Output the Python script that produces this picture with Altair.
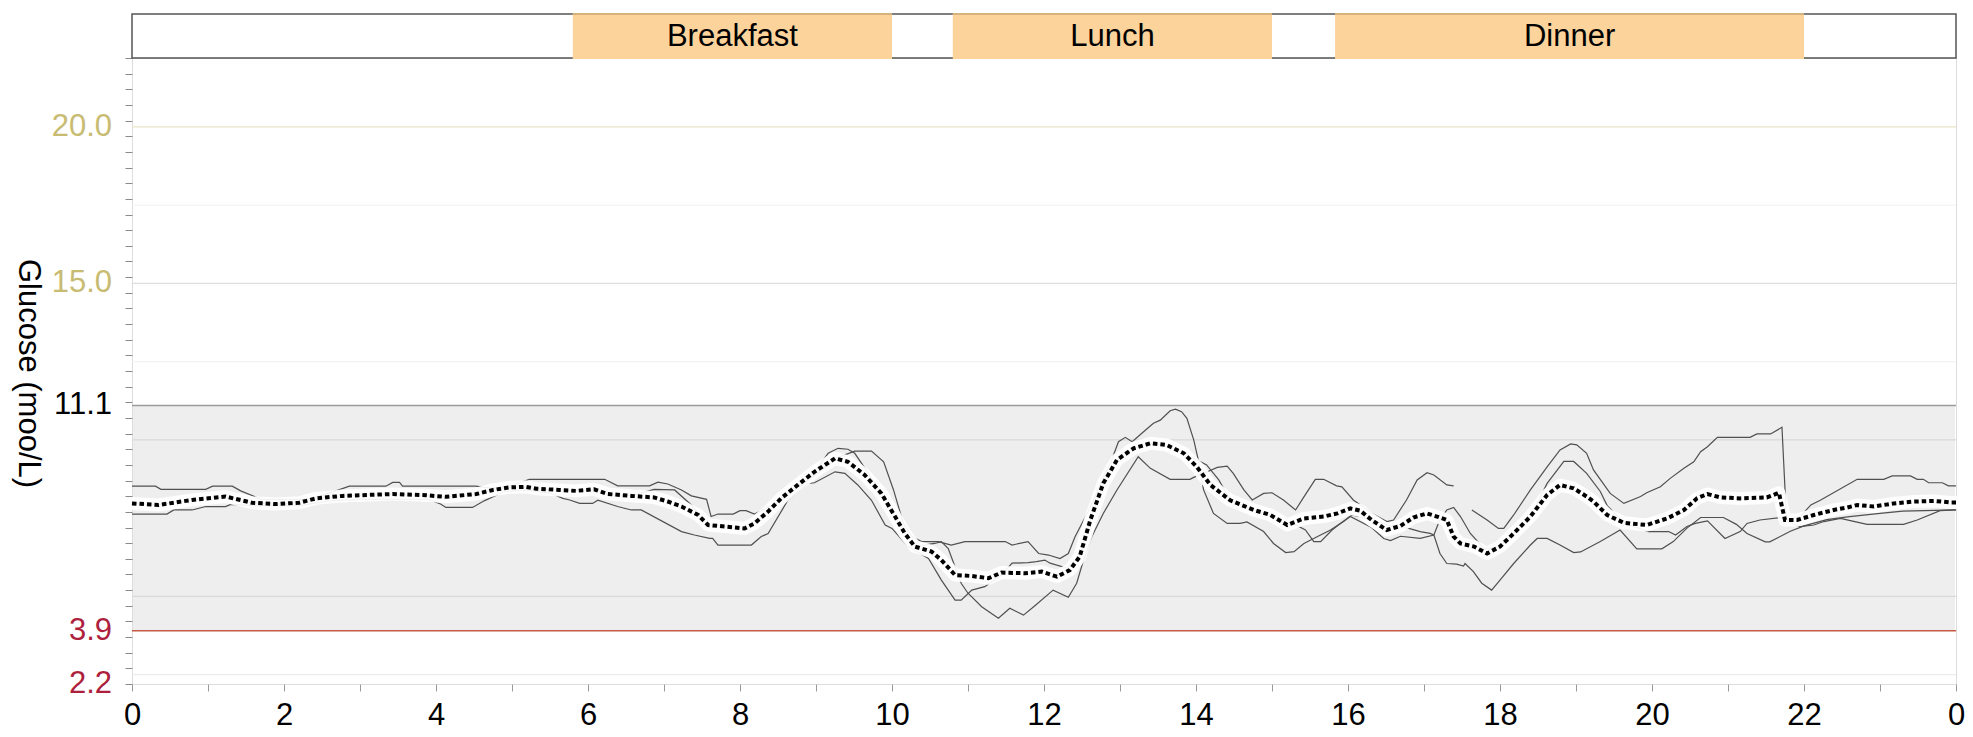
import altair as alt
import pandas as pd

# ---------------- data (hour of day, glucose mmol/L) ----------------
d1_h = [0.0, 0.31, 0.38, 0.97, 1.06, 1.32, 1.43, 1.7, 2.3, 2.6,
        2.86, 3.34, 3.43, 3.52, 3.56, 4.52, 4.75, 5.0, 5.23, 5.67,
        6.22, 6.39, 6.81, 6.92, 7.05, 7.23, 7.36, 7.56, 7.62, 7.71,
        7.91, 8.00, 8.08, 8.19, 8.5, 9.0, 9.3, 9.51, 9.73, 9.89,
        10.02, 10.15, 10.26, 10.39, 10.61, 10.78, 10.96, 11.49, 11.58, 11.79,
        11.93, 12.06, 12.21, 12.32, 12.41, 12.6, 12.78, 12.89, 12.98, 13.07,
        13.16, 13.31, 13.44, 13.53, 13.66, 13.73, 13.81, 13.88, 13.97, 14.03,
        14.10, 14.23, 14.41, 14.58, 14.67, 14.89, 15.02, 15.18, 15.29, 15.42,
        15.60, 15.77, 15.94, 16.05, 16.3, 16.55, 16.80, 16.95, 17.08, 17.13,
        17.21, 17.30, 17.43, 17.52, 17.54, 17.65, 17.76, 17.89, 18.00, 18.18,
        18.40, 18.49, 18.62, 18.79, 18.97, 19.06, 19.32, 19.58, 19.80, 20.13,
        20.28, 20.46, 20.64, 20.94, 21.11, 21.25, 21.49, 21.55, 21.82, 22.0,
        22.30, 22.60, 23.00, 23.30, 24.0]
d1_v = [8.52, 8.52, 8.42, 8.42, 8.52, 8.52, 8.37, 8.1, 8.1, 8.3,
        8.52, 8.52, 8.64, 8.64, 8.52, 8.52, 8.45, 8.55, 8.74, 8.74,
        8.74, 8.53, 8.53, 8.65, 8.59, 8.40, 8.21, 8.10, 7.55, 7.63,
        7.63, 7.74, 7.74, 7.63, 8.0, 8.9, 9.45, 9.64, 9.64, 9.30,
        8.40, 7.33, 6.91, 6.75, 6.75, 6.64, 6.75, 6.75, 6.64, 6.75,
        6.37, 6.32, 6.21, 6.37, 6.91, 7.8, 8.8, 9.36, 9.94, 10.08,
        9.94, 10.26, 10.53, 10.63, 10.93, 10.98, 10.90, 10.69, 10.0, 9.36,
        8.40, 7.65, 7.33, 7.33, 7.38, 7.07, 6.69, 6.40, 6.43, 6.69,
        6.91, 7.12, 7.39, 7.60, 7.45, 7.25, 7.17, 7.07, 7.01, 6.96,
        6.37, 6.05, 6.03, 5.97, 6.05, 5.79, 5.42, 5.20, 5.52, 6.05,
        6.64, 6.85, 6.85, 6.64, 6.40, 6.42, 6.75, 7.12, 6.52, 6.52,
        6.75, 7.18, 7.52, 7.52, 7.30, 7.01, 6.74, 6.74, 7.08, 7.25,
        7.45, 7.55, 7.65, 7.72, 7.76]

d2_h = [0.0, 0.35, 0.79, 1.23, 1.58, 1.89, 2.20, 2.42, 2.77, 3.43,
        3.87, 4.13, 4.53, 4.75, 4.96, 5.18, 5.32, 5.62, 5.84, 6.08,
        6.26, 6.57, 6.87, 7.14, 7.36, 7.58, 7.80, 8.06, 8.19, 8.37,
        8.54, 8.76, 8.98, 9.16, 9.29, 9.42, 9.51, 9.60, 9.86, 10.04,
        10.17, 10.30, 10.56, 10.65, 10.74, 10.91, 11.00, 11.18, 11.40, 11.55,
        11.73, 11.88, 12.12, 12.32, 12.43, 12.52, 12.63, 12.78, 12.96, 13.24,
        13.40, 13.66, 13.92, 13.97, 14.15, 14.28, 14.41, 14.49, 14.63, 14.74,
        14.89, 15.00, 15.15, 15.31, 15.42, 15.57, 15.68, 15.85, 15.92, 16.07,
        16.32, 16.51, 16.60, 16.77, 16.91, 17.04, 17.13, 17.30, 17.39, None,
        17.63, 17.83, 17.98, 18.05, 18.18, 18.40, 18.62, 18.79, 18.93, 19.01,
        19.14, 19.23, 19.45, 19.63, 19.85, 19.93, 20.11, 20.24, 20.42, 20.55,
        20.64, 20.73, 20.86, 21.29, 21.38, 21.56, 21.71, 21.77, 21.95, 22.09,
        22.22, 22.70, 23.05, 23.16, 23.40, 23.49, 23.57, 23.64, 23.82, 23.90,
        24.0]
d2_v = [7.97, 7.92, 8.08, 8.19, 7.99, 7.95, 7.99, 8.13, 8.21, 8.27,
        8.23, 8.18, 8.27, 8.40, 8.48, 8.50, 8.44, 8.40, 8.37, 8.42,
        8.27, 8.21, 8.42, 8.40, 7.92, 7.28, 7.23, 7.17, 7.33, 7.71,
        8.13, 8.56, 8.98, 9.57, 9.73, 9.70, 9.57, 9.25, 8.29, 7.55,
        7.01, 6.59, 6.69, 6.75, 6.53, 5.42, 5.10, 4.67, 4.30, 4.62,
        4.40, 4.70, 5.20, 4.97, 5.42, 6.16, 6.91, 7.65, 8.40, 9.46,
        9.09, 8.74, 8.74, 8.80, 8.98, 9.12, 9.16, 8.93, 8.40, 8.08,
        8.29, 8.31, 8.08, 7.76, 8.18, 8.74, 8.74, 8.53, 8.50, 8.08,
        7.65, 7.39, 7.44, 8.08, 8.72, 8.95, 8.88, 8.56, 8.53, None,
        7.76, 7.44, 7.17, 7.17, 7.60, 8.40, 9.14, 9.68, 9.87, 9.84,
        9.57, 9.04, 8.29, 7.97, 8.19, 8.31, 8.50, 8.77, 9.09, 9.30,
        9.62, 9.78, 10.08, 10.08, 10.19, 10.19, 10.40, 7.44, 7.55, 7.92,
        8.08, 8.74, 8.74, 8.85, 8.85, 8.74, 8.74, 8.63, 8.63, 8.53,
        8.53]

d3_h = [0.0, 0.46, 0.55, 0.79, 0.97, 1.23, 1.30, 1.6, 2.2, 2.6,
        3.0, 3.9, 4.06, 4.13, 4.48, 4.64, 4.9, 5.2, 5.5, 5.67,
        5.76, 5.89, 6.06, 6.13, 6.39, 6.57, 6.70, 7.23, 7.40, 7.60,
        7.64, 7.71, 8.15, 8.28, 8.37, 8.63, 8.90, 8.98, 9.25, 9.38,
        9.55, 9.73, 9.91, 10.00, 10.21, 10.48, 10.65, 10.83, 10.91, 11.05,
        11.22, 11.45, 11.58, 11.79, 11.90, 12.01, 12.08, 12.3, 12.47, 12.61,
        12.78, 12.96, 13.18, 13.40, 13.61, 13.84, 14.06, 14.14, 14.30, 14.45,
        14.76, 14.98, 15.20, 15.30, 15.44, 15.55, 15.64, 15.79, 15.90, 16.03,
        16.31, 16.47, 16.56, 16.69, 16.95, 17.13, 17.2, 17.30, 17.39, 17.48,
        17.61, 17.8, 18.0, 18.18, 18.40, 18.62, 18.84, 18.97, 19.14, 19.32,
        19.41, 19.63, 19.95, 20.22, 20.31, 20.46, 20.57, 20.73, 20.96, 21.16,
        21.25, 21.42, 21.69, 21.82, 21.95, 22.13, 22.26, 22.48, 22.61, 22.83,
        23.31, 23.49, 23.79, 24.0]
d3_v = [7.63, 7.63, 7.76, 7.76, 7.87, 7.87, 7.94, 7.9, 7.9, 8.05,
        8.1, 8.1, 7.95, 7.84, 7.84, 8.06, 8.35, 8.4, 8.3, 8.13,
        8.08, 7.97, 7.97, 8.07, 7.87, 7.76, 7.76, 7.07, 6.96, 6.85,
        6.85, 6.64, 6.64, 6.91, 7.01, 8.07, 8.61, 8.63, 8.98, 8.93,
        8.56, 8.07, 7.28, 7.17, 6.59, 6.21, 5.52, 4.88, 4.88, 5.20,
        5.31, 5.7, 6.06, 6.08, 6.11, 6.16, 6.06, 5.9, 6.27, 7.44,
        8.61, 9.36, 9.73, 9.89, 9.84, 9.57, 9.30, 9.20, 8.72, 8.07,
        7.76, 7.60, 7.28, 7.3, 7.12, 6.75, 6.75, 7.12, 7.33, 7.55,
        7.2, 6.85, 6.78, 6.92, 6.85, 6.96, 7.4, 7.76, 7.84, 7.55,
        7.01, 6.5, 6.59, 7.01, 7.55, 8.61, 9.31, 9.31, 8.93, 8.35,
        7.9, 7.35, 7.07, 7.07, 6.96, 7.23, 7.33, 7.41, 6.85, 7.07,
        7.33, 7.44, 7.52, 7.35, 7.23, 7.28, 7.39, 7.49, 7.42, 7.30,
        7.30, 7.44, 7.74, 7.76]

med_h = [0.0, 0.35, 0.79, 1.23, 1.58, 1.89, 2.20, 2.42, 2.77, 3.43,
         3.87, 4.13, 4.53, 4.75, 4.96, 5.18, 5.32, 5.62, 5.84, 6.08,
         6.26, 6.57, 6.87, 7.05, 7.23, 7.45, 7.58, 7.80, 8.06, 8.19,
         8.37, 8.54, 8.76, 8.98, 9.25, 9.42, 9.64, 9.86, 10.04, 10.17,
         10.30, 10.52, 10.65, 10.83, 11.05, 11.27, 11.44, 11.75, 11.97, 12.17,
         12.34, 12.47, 12.61, 12.78, 12.96, 13.18, 13.40, 13.61, 13.84, 14.01,
         14.19, 14.45, 14.76, 14.98, 15.20, 15.42, 15.68, 15.86, 16.03, 16.16,
         16.31, 16.51, 16.69, 16.86, 17.04, 17.17, 17.30, 17.39, 17.48, 17.66,
         17.83, 18.00, 18.18, 18.40, 18.62, 18.79, 18.97, 19.14, 19.23, 19.41,
         19.63, 19.93, 20.20, 20.42, 20.59, 20.73, 20.90, 21.16, 21.51, 21.67,
         21.71, 21.75, 21.91, 22.13, 22.39, 22.57, 22.70, 22.92, 23.18, 23.45,
         23.71, 23.93, 24.0]
med_v = [7.97, 7.92, 8.08, 8.19, 7.99, 7.95, 7.99, 8.13, 8.21, 8.27,
         8.23, 8.18, 8.27, 8.40, 8.48, 8.50, 8.44, 8.40, 8.37, 8.42,
         8.27, 8.21, 8.16, 8.03, 7.87, 7.60, 7.28, 7.23, 7.17, 7.33,
         7.71, 8.13, 8.56, 8.98, 9.41, 9.30, 8.88, 8.29, 7.55, 7.01,
         6.59, 6.43, 6.16, 5.68, 5.65, 5.58, 5.76, 5.74, 5.79, 5.63,
         5.84, 6.27, 7.44, 8.61, 9.36, 9.73, 9.89, 9.84, 9.57, 9.14,
         8.56, 8.07, 7.76, 7.60, 7.28, 7.49, 7.55, 7.65, 7.81, 7.74,
         7.44, 7.12, 7.25, 7.52, 7.65, 7.55, 7.44, 6.91, 6.69, 6.59,
         6.37, 6.59, 7.01, 7.55, 8.24, 8.56, 8.45, 8.19, 8.03, 7.60,
         7.35, 7.28, 7.49, 7.76, 8.13, 8.27, 8.16, 8.13, 8.16, 8.31,
         7.87, 7.44, 7.44, 7.60, 7.76, 7.84, 7.92, 7.87, 7.97, 8.03,
         8.05, 8.00, 8.0]

meal_names = ["Breakfast", "Lunch", "Dinner"]
meal_start = [5.8, 10.8, 15.83]
meal_end = [10.0, 15.0, 22.0]

target_low, target_high = 3.9, 11.1
grid_values = [2.5, 5.0, 10.0, 12.5, 15.0, 17.5, 20.0]
y_label_values = [2.2, 3.9, 11.1, 15.0, 20.0]
y_label_texts = ["2.2", "3.9", "11.1", "15.0", "20.0"]
x_tick_hours = list(range(0, 25))
y_domain = [2.2, 22.2]
y_minor_ticks = [round(2.2 + 0.5 * k, 1) for k in range(41)]

# ---------------- frames ----------------
def series_rows(name, hs, vs):
    rows, seg = [], 0
    for h, v in zip(hs, vs):
        if h is None or v is None:
            seg += 1
            continue
        rows.append({"day": name, "seg": f"{name}-{seg}", "h": h, "v": v})
    return rows

days_df = pd.DataFrame(series_rows("d1", d1_h, d1_v)
                       + series_rows("d2", d2_h, d2_v)
                       + series_rows("d3", d3_h, d3_v))
med_df = pd.DataFrame({"h": med_h, "v": med_v})
meals_df = pd.DataFrame({"meal": meal_names, "start": meal_start, "end": meal_end})
meals_df["mid"] = (meals_df["start"] + meals_df["end"]) / 2
band_df = pd.DataFrame({"lo": [target_low], "hi": [target_high]})
grid_df = pd.DataFrame({"v": grid_values})
thr_df = pd.DataFrame({"v": [target_high, target_low], "kind": ["high", "low"]})
ylab_df = pd.DataFrame({"v": y_label_values, "label": y_label_texts})
one_df = pd.DataFrame({"a": [0]})

# ---------------- styling ----------------
W, H = 1824, 626
FONT = "Liberation Sans"
xscale = alt.Scale(domain=[0, 24], nice=False, zero=False)
yscale = alt.Scale(domain=y_domain, nice=False, zero=False)

xaxis = alt.Axis(values=x_tick_hours,
                 labelExpr="datum.value % 2 == 0 ? '' + (datum.value % 24) : ''",
                 labelFontSize=31, labelColor="black", labelPadding=9,
                 labelFlush=False, labelOverlap=False, tickSize=7,
                 tickColor="#9a9a9a", domain=False, grid=False, title="")
yaxis = alt.Axis(values=y_minor_ticks, labels=False, tickSize=7,
                 tickColor="#8a8a8a", domain=False, grid=False,
                 title="Glucose (moo/L)", titleAngle=90, titleX=-105, titleY=315,
                 titleAlign="center", titleBaseline="middle", titleFontSize=31,
                 titleFontWeight="normal", titleColor="black", titleFont=FONT)

X = lambda f: alt.X(f"{f}:Q", scale=xscale, axis=xaxis)
Y = lambda f: alt.Y(f"{f}:Q", scale=yscale, axis=yaxis)

band = alt.Chart(band_df).mark_rect(color="#eeeeee").encode(
    x=alt.value(1), x2=alt.value(W - 1), y=Y("lo"), y2="hi:Q")

grid_colors = ["#ebebeb", "#d9d9d9", "#d9d9d9", "#f3f3f3", "#dedede", "#f3f3f3", "#e8e3c6"]
grid = alt.Chart(grid_df).mark_rule(strokeWidth=1.3).encode(
    y=Y("v"),
    color=alt.Color("v:N", scale=alt.Scale(domain=grid_values, range=grid_colors), legend=None))

thr = alt.Chart(thr_df).mark_rule(strokeWidth=1.4).encode(
    y=Y("v"),
    color=alt.Color("kind:N", scale=alt.Scale(domain=["high", "low"], range=["#9b9b9b", "#c65a45"]), legend=None))

thin = alt.Chart(days_df).mark_line(color="#505050", strokeWidth=1.2).encode(
    x=X("h"), y=Y("v"), detail="seg:N")

halo = alt.Chart(med_df).mark_line(color="white", strokeWidth=13, opacity=0.92,
                                   strokeCap="round", strokeJoin="round").encode(
    x=X("h"), y=Y("v"))
dotted = alt.Chart(med_df).mark_line(color="black", strokeWidth=4, strokeDash=[4.5, 3]).encode(
    x=X("h"), y=Y("v"))

top_box = alt.Chart(one_df).mark_rect(fill="white", stroke="#555555", strokeWidth=1.5).encode(
    x=alt.value(0), x2=alt.value(W), y=alt.value(-44), y2=alt.value(0))
meal_rect = alt.Chart(meals_df).mark_rect(fill="#fcd39b").encode(
    x=X("start"), x2="end:Q", y=alt.value(-44), y2=alt.value(1))
meal_top = alt.Chart(meals_df).mark_rule(color="#d6b37c", strokeWidth=2).encode(
    x=X("start"), x2="end:Q", y=alt.value(-44))
meal_text = alt.Chart(meals_df).mark_text(fontSize=31, font=FONT, color="black",
                                          baseline="middle").encode(
    x=X("mid"), y=alt.value(-21), text="meal:N")

ylabels = alt.Chart(ylab_df).mark_text(align="right", baseline="middle", fontSize=31,
                                       font=FONT).encode(
    x=alt.value(-20), y=Y("v"), text="label:N",
    color=alt.Color("label:N", scale=alt.Scale(domain=y_label_texts,
                    range=["#ad1f3d", "#ad1f3d", "#000000", "#c8bb72", "#c8bb72"]), legend=None))

chart = alt.layer(band, grid, thr, thin, halo, dotted, top_box, meal_rect, meal_top,
                  meal_text, ylabels).resolve_scale(color="independent").properties(
    width=W, height=H,
    padding={"left": 124, "top": 50, "right": 9, "bottom": 50},
    autosize=alt.AutoSizeParams(type="none"),
).configure_view(stroke="#555555", strokeWidth=1.5).configure_axis(
    labelFont=FONT, titleFont=FONT).configure(background="white")

chart.save("out.html", embed_options={"renderer": "svg", "actions": False})
